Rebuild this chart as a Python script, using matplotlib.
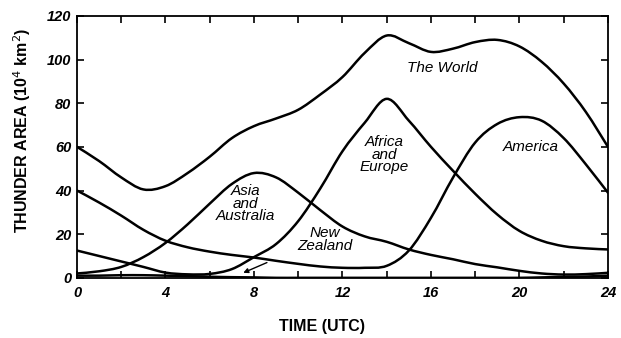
import numpy as np
import matplotlib
matplotlib.use('Agg')
import matplotlib.pyplot as plt
from matplotlib.path import Path
from matplotlib.patches import PathPatch

plt.rcParams['font.family'] = ['Liberation Sans', 'DejaVu Sans']

# hourly thunderstorm area (10^4 km^2), 0..24 UTC
hours = list(range(25))
world = [60, 53.5, 46, 40.5, 42, 48, 55.5, 64, 69.5, 73, 77, 84, 92, 103, 111,
         107.5, 103.5, 105, 108, 109, 106, 99, 89, 76, 60]
america = [40, 34.5, 28.5, 22, 17, 14, 12, 10.5, 9.3, 7.8, 6.4, 5.2, 4.6,
           4.6, 5.5, 12.5, 27.5, 46, 62, 70.5, 73.6, 72, 64, 52, 39]
africa_europe = [12.5, 10, 7.5, 5, 2.4, 1.6, 1.8, 4, 9.5, 15.5, 26, 41, 58,
                 71, 82, 72, 60, 49, 38.5, 29, 21.5, 17, 14.5, 13.5, 13]
asia_australia = [2, 3, 5, 9.5, 16, 24.5, 34, 43, 48, 46, 39, 31, 23.5, 19,
                  16.5, 13, 10.5, 8.5, 6.3, 4.8, 3.2, 2, 1.5, 1.7, 2.3]
new_zealand = [1.0, 1.0, 1.2, 1.2, 1.0, 0.8, 0.5, 0.3, 0.2, 0, 0, 0, 0,
               0, 0, 0, 0, 0, 0, 0, 0, 0.2, 0.4, 0.6, 1.0]

x_ticks = [0, 4, 8, 12, 16, 20, 24]
y_ticks = [0, 20, 40, 60, 80, 100, 120]


def smooth_path(xs, ys):
    # Catmull-Rom through the points, written as cubic Bezier segments
    xs = np.asarray(xs, float)
    ys = np.asarray(ys, float)
    px = np.concatenate([[xs[0]], xs, [xs[-1]]])
    py = np.concatenate([[ys[0]], ys, [ys[-1]]])
    verts = [(xs[0], ys[0])]
    codes = [Path.MOVETO]
    for i in range(1, len(px) - 2):
        c1 = (px[i] + (px[i + 1] - px[i - 1]) / 6, py[i] + (py[i + 1] - py[i - 1]) / 6)
        c2 = (px[i + 1] - (px[i + 2] - px[i]) / 6, py[i + 1] - (py[i + 2] - py[i]) / 6)
        verts += [c1, c2, (px[i + 1], py[i + 1])]
        codes += [Path.CURVE4] * 3
    return Path(verts, codes)


fig = plt.figure(figsize=(6.21, 3.38), dpi=100)
ax = fig.add_axes([0.124, 0.178, 0.855, 0.775])

for series in [world, america, africa_europe, asia_australia, new_zealand]:
    ax.add_patch(PathPatch(smooth_path(hours, series), facecolor='none',
                           edgecolor='black', lw=1.8, capstyle='round'))

ax.set_xlim(0, 24)
ax.set_ylim(0, 120)
ax.set_xticks(x_ticks)
ax.set_xticks(range(2, 24, 4), minor=True)
ax.set_yticks(y_ticks)
ax.tick_params(which='both', direction='in', top=True, right=True,
               length=5, width=1.2)
ax.tick_params(axis='x', pad=6)
ax.tick_params(axis='y', pad=4)
for lab in ax.get_xticklabels() + ax.get_yticklabels():
    lab.set_fontsize(10.5)
    lab.set_fontstyle('italic')
    lab.set_fontweight('bold')
for sp in ax.spines.values():
    sp.set_linewidth(1.3)

txt = dict(fontsize=11, style='italic', ha='center', va='center',
           linespacing=0.85)
ax.text(16.5, 96, 'The World', **txt)
ax.text(13.9, 56.5, 'Africa\nand\nEurope', **txt)
ax.text(20.5, 60, 'America', **txt)
ax.text(7.6, 34, 'Asia\nand\nAustralia', **txt)
ax.text(11.2, 17.5, 'New\nZealand', **txt)
ax.annotate('', xy=(7.4, 1.8), xytext=(8.7, 7.5),
            arrowprops=dict(arrowstyle='-|>', lw=1.0, color='black',
                            mutation_scale=7))

fig.text(0.035, 1 - 130 / 338, 'THUNDER AREA (10$^4$ km$^2$)', rotation=90,
         ha='center', va='center', fontsize=11.5, fontweight='bold')
fig.text(322 / 621, 1 - 327 / 338, 'TIME (UTC)', ha='center', va='center',
         fontsize=11.5, fontweight='bold')

fig.savefig('out.png', dpi=100)
